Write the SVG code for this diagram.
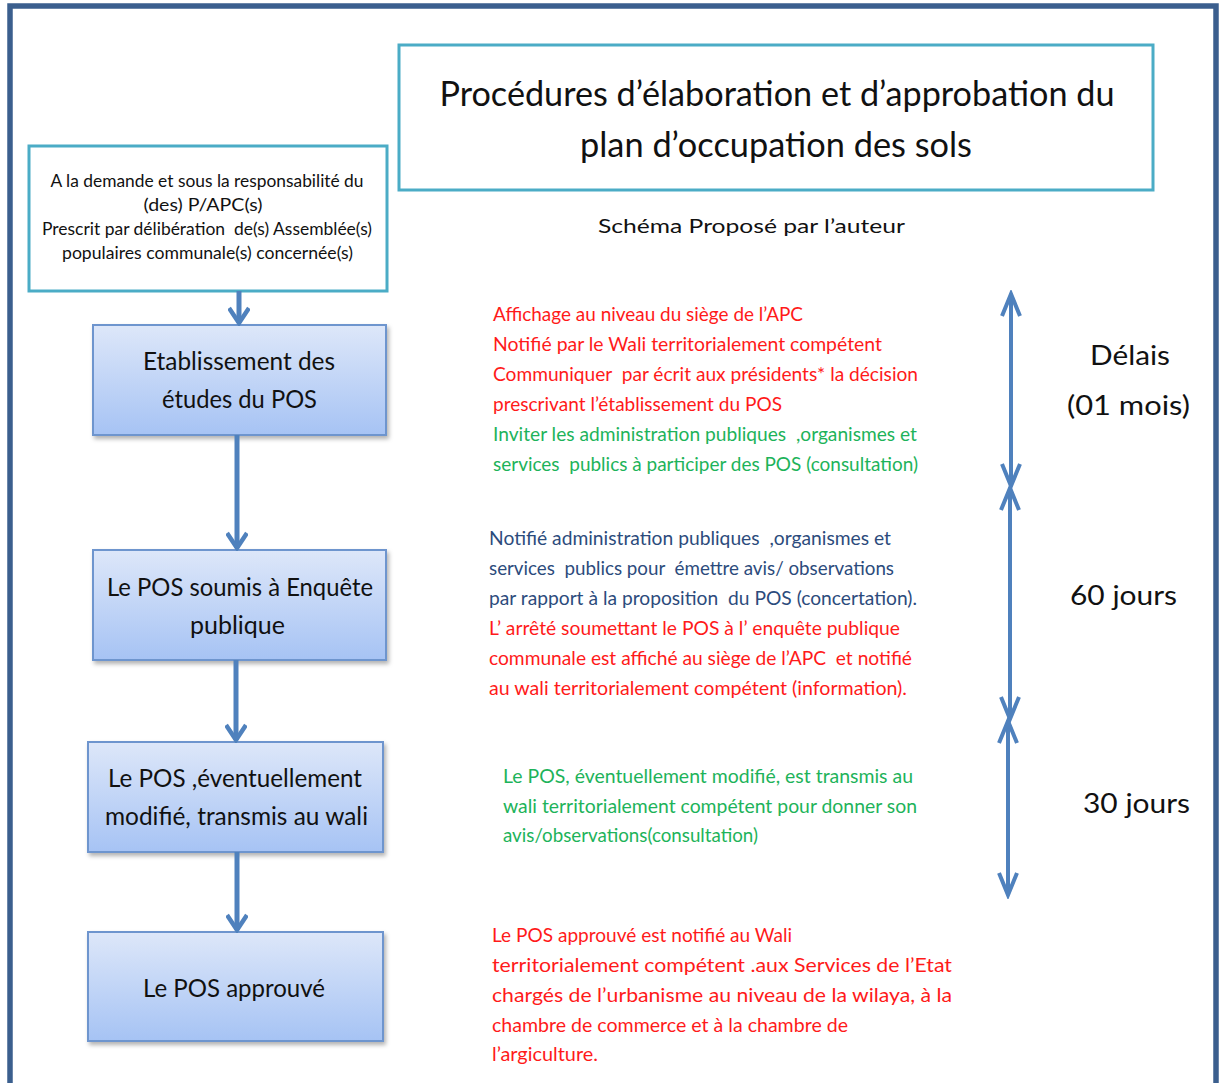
<svg xmlns="http://www.w3.org/2000/svg" width="1222" height="1083" viewBox="0 0 1222 1083">
  <style>
    text { font-family: Lato, "Liberation Sans", sans-serif; white-space: pre; }
    .frame { fill: none; stroke: #3B5F8E; stroke-width: 5.5; }
    .tbox { fill: #FFFFFF; stroke: #4BACC6; stroke-width: 3; }
    .node { fill: url(#nodeGrad); stroke: #6E95CE; stroke-width: 2; filter: url(#shadow); }
    .ntext { font-size: 25.5px; fill: #111111; text-anchor: middle; }
    .title { font-size: 34px; fill: #111111; text-anchor: middle; }
    .sub { font-size: 19.5px; fill: #111111; text-anchor: middle; }
    .btext { font-size: 17px; fill: #111111; text-anchor: middle; }
    .delay { font-size: 26px; fill: #111111; text-anchor: middle; }
    .body { font-size: 19px; }
    .red { fill: #FF1A1A; }
    .green { fill: #1DB35A; }
    .blue { fill: #2C4B7C; }
    .conn { stroke: #4F81BD; stroke-width: 5; fill: none; }
    .dbl { stroke: #4F81BD; stroke-width: 4; fill: none; }
  </style>
  <defs>
    <linearGradient id="nodeGrad" x1="0" y1="0" x2="0" y2="1">
      <stop offset="0" stop-color="#DDE7F9"/>
      <stop offset="1" stop-color="#A6C3F4"/>
    </linearGradient>
    <filter id="shadow" x="-10%" y="-10%" width="125%" height="130%">
      <feDropShadow dx="2" dy="3" stdDeviation="2" flood-color="#000000" flood-opacity="0.3"/>
    </filter>
    <marker id="chev" markerUnits="userSpaceOnUse" viewBox="0 0 20 22" refX="17" refY="11" markerWidth="20" markerHeight="22" orient="auto-start-reverse">
      <path d="M2,1 L17,11 L2,21" fill="none" stroke="#4F81BD" stroke-width="4.5"/>
    </marker>
    <marker id="chev2" markerUnits="userSpaceOnUse" viewBox="0 0 28 22" refX="24" refY="11" markerWidth="28" markerHeight="22" orient="auto-start-reverse">
      <path d="M2,2 L24,11 L2,20" fill="none" stroke="#4F81BD" stroke-width="4"/>
    </marker>
  </defs>

  <rect class="frame" x="10" y="6" width="1206" height="1110"/>

  <g id="title">
    <rect class="tbox" x="399" y="45" width="754" height="145"/>
    <text class="title" x="777" y="106" textLength="675" lengthAdjust="spacingAndGlyphs">Procédures d’élaboration et d’approbation du</text>
    <text class="title" x="776" y="157" textLength="392" lengthAdjust="spacingAndGlyphs">plan d’occupation des sols</text>
  </g>
  <text class="sub" x="751.5" y="233" textLength="307" lengthAdjust="spacingAndGlyphs">Schéma Proposé par l’auteur</text>

  <g id="start">
    <rect class="tbox" x="29" y="146" width="358" height="145"/>
    <text class="btext" x="207" y="187" textLength="313" lengthAdjust="spacingAndGlyphs">A la demande et sous la responsabilité du</text>
    <text class="btext" x="203" y="211" textLength="119" lengthAdjust="spacingAndGlyphs">(des) P/APC(s)</text>
    <text class="btext" x="207" y="235" textLength="330" lengthAdjust="spacingAndGlyphs">Prescrit par délibération  de(s) Assemblée(s)</text>
    <text class="btext" x="207.5" y="259" textLength="291" lengthAdjust="spacingAndGlyphs">populaires communale(s) concernée(s)</text>
  </g>

  <g id="node1">
    <rect class="node" x="93" y="325" width="293" height="110"/>
    <text class="ntext" x="239" y="370" textLength="192" lengthAdjust="spacingAndGlyphs">Etablissement des</text>
    <text class="ntext" x="239.5" y="408" textLength="155" lengthAdjust="spacingAndGlyphs">études du POS</text>
  </g>

  <g id="node2">
    <rect class="node" x="93" y="550" width="293" height="110"/>
    <text class="ntext" x="240" y="596" textLength="266" lengthAdjust="spacingAndGlyphs">Le POS soumis à Enquête</text>
    <text class="ntext" x="237.5" y="634" textLength="95" lengthAdjust="spacingAndGlyphs">publique</text>
  </g>

  <g id="node3">
    <rect class="node" x="88" y="742" width="295" height="110"/>
    <text class="ntext" x="235" y="787" textLength="254" lengthAdjust="spacingAndGlyphs">Le POS ,éventuellement</text>
    <text class="ntext" x="236.5" y="825" textLength="263" lengthAdjust="spacingAndGlyphs">modifié, transmis au wali</text>
  </g>

  <g id="node4">
    <rect class="node" x="88" y="932" width="295" height="109"/>
    <text class="ntext" x="234" y="997" textLength="182" lengthAdjust="spacingAndGlyphs">Le POS approuvé</text>
  </g>

  <g id="connectors">
    <line class="conn" x1="239" y1="291" x2="239" y2="323" marker-end="url(#chev)"/>
    <line class="conn" x1="237" y1="435" x2="237" y2="548" marker-end="url(#chev)"/>
    <line class="conn" x1="236" y1="660" x2="236" y2="740" marker-end="url(#chev)"/>
    <line class="conn" x1="237" y1="852" x2="237" y2="930" marker-end="url(#chev)"/>
    <line class="dbl" x1="1011" y1="294" x2="1011" y2="486" marker-start="url(#chev2)" marker-end="url(#chev2)"/>
    <line class="dbl" x1="1010" y1="488" x2="1010" y2="719" marker-start="url(#chev2)" marker-end="url(#chev2)"/>
    <line class="dbl" x1="1008" y1="721" x2="1008" y2="895" marker-start="url(#chev2)" marker-end="url(#chev2)"/>
  </g>

  <g id="delays">
    <text class="delay" x="1130" y="365" textLength="80" lengthAdjust="spacingAndGlyphs">Délais</text>
    <text class="delay" x="1128.5" y="415" textLength="123" lengthAdjust="spacingAndGlyphs">(01 mois)</text>
    <text class="delay" x="1123.5" y="605" textLength="107" lengthAdjust="spacingAndGlyphs">60 jours</text>
    <text class="delay" x="1136.5" y="813" textLength="107" lengthAdjust="spacingAndGlyphs">30 jours</text>
  </g>

  <g id="text1" class="body">
    <text class="red" x="493" y="321" textLength="310" lengthAdjust="spacingAndGlyphs">Affichage au niveau du siège de l’APC</text>
    <text class="red" x="493" y="351" textLength="389" lengthAdjust="spacingAndGlyphs">Notifié par le Wali territorialement compétent</text>
    <text class="red" x="493" y="381" textLength="425" lengthAdjust="spacingAndGlyphs">Communiquer  par écrit aux présidents* la décision</text>
    <text class="red" x="493" y="411" textLength="289" lengthAdjust="spacingAndGlyphs">prescrivant l’établissement du POS</text>
    <text class="green" x="493" y="441" textLength="424" lengthAdjust="spacingAndGlyphs">Inviter les administration publiques  ,organismes et</text>
    <text class="green" x="493" y="471" textLength="425" lengthAdjust="spacingAndGlyphs">services  publics à participer des POS (consultation)</text>
  </g>

  <g id="text2" class="body">
    <text class="blue" x="489" y="545" textLength="402" lengthAdjust="spacingAndGlyphs">Notifié administration publiques  ,organismes et</text>
    <text class="blue" x="489" y="575" textLength="405" lengthAdjust="spacingAndGlyphs">services  publics pour  émettre avis/ observations</text>
    <text class="blue" x="489" y="605" textLength="428" lengthAdjust="spacingAndGlyphs">par rapport à la proposition  du POS (concertation).</text>
    <text class="red" x="489" y="635" textLength="411" lengthAdjust="spacingAndGlyphs">L’ arrêté soumettant le POS à l’ enquête publique</text>
    <text class="red" x="489" y="665" textLength="423" lengthAdjust="spacingAndGlyphs">communale est affiché au siège de l’APC  et notifié</text>
    <text class="red" x="489" y="695" textLength="418" lengthAdjust="spacingAndGlyphs">au wali territorialement compétent (information).</text>
  </g>

  <g id="text3" class="body">
    <text class="green" x="503" y="783" textLength="410" lengthAdjust="spacingAndGlyphs">Le POS, éventuellement modifié, est transmis au</text>
    <text class="green" x="503" y="813" textLength="414" lengthAdjust="spacingAndGlyphs">wali territorialement compétent pour donner son</text>
    <text class="green" x="503" y="842" textLength="255" lengthAdjust="spacingAndGlyphs">avis/observations(consultation)</text>
  </g>

  <g id="text4" class="body">
    <text class="red" x="492" y="942" textLength="300" lengthAdjust="spacingAndGlyphs">Le POS approuvé est notifié au Wali</text>
    <text class="red" x="492" y="972" textLength="460" lengthAdjust="spacingAndGlyphs">territorialement compétent .aux Services de l’Etat</text>
    <text class="red" x="492" y="1002" textLength="460" lengthAdjust="spacingAndGlyphs">chargés de l’urbanisme au niveau de la wilaya, à la</text>
    <text class="red" x="492" y="1032" textLength="356" lengthAdjust="spacingAndGlyphs">chambre de commerce et à la chambre de</text>
    <text class="red" x="492" y="1061" textLength="106" lengthAdjust="spacingAndGlyphs">l’argiculture.</text>
  </g>
</svg>
